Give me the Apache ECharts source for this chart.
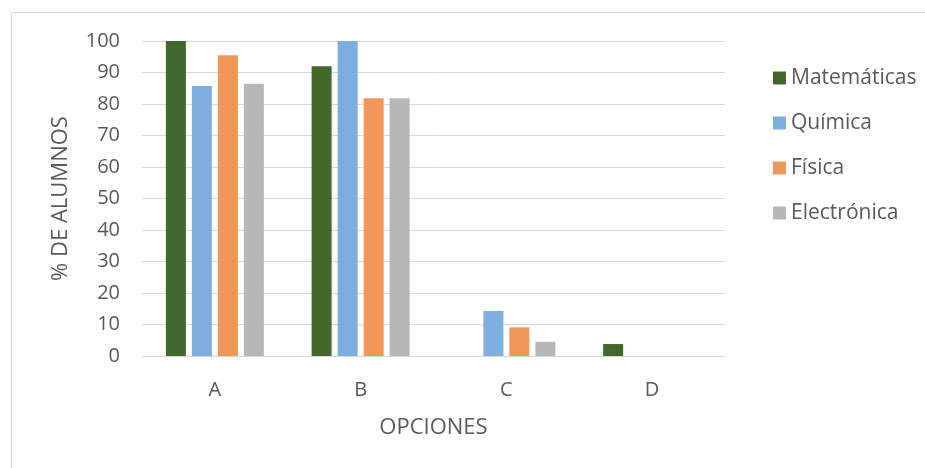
<!DOCTYPE html>
<html>
<head>
<meta charset="utf-8">
<script src="https://cdn.jsdelivr.net/npm/echarts@6/dist/echarts.min.js"></script>
<style>
  html, body { margin: 0; padding: 0; background: #fff; }
  #chart { width: 925px; height: 468px; }
</style>
</head>
<body>
<div id="chart"></div>
<script>
// Answer options and share of students choosing each, per subject
const opciones = ['A', 'B', 'C', 'D'];
const matematicas = [100, 92, 0, 3.8];
const quimica = [85.7, 100, 14.3, 0];
const fisica = [95.5, 81.8, 9.1, 0];
const electronica = [86.4, 81.8, 4.5, 0];

const seriesNames = ['Matemáticas', 'Química', 'Física', 'Electrónica'];
const seriesColors = ['#43682b', '#7cafdd', '#f1975a', '#b7b7b7'];
const seriesData = [matematicas, quimica, fisica, electronica];

const textColor = '#595959';
const gridColor = '#d9d9d9';
const font = 'Open Sans';

const chart = echarts.init(document.getElementById('chart'), null, { renderer: 'canvas' });

chart.setOption({
  animation: false,
  backgroundColor: '#fff',
  textStyle: { fontFamily: font, color: textColor },
  graphic: [{
    type: 'rect',
    left: 9, top: 10,
    shape: { x: 0.5, y: 0.5, width: 1000, height: 1000 },
    style: { fill: 'none', stroke: gridColor, lineWidth: 1 },
    z: -10
  }],
  grid: { left: 142, right: 200, top: 41, bottom: 112 },
  legend: {
    orient: 'vertical',
    left: 768,
    top: 62,
    itemWidth: 13,
    itemHeight: 13,
    itemGap: 23,
    icon: 'rect',
    textStyle: { fontFamily: font, fontSize: 21, color: textColor, lineHeight: 22, padding: [0, 0, 0, 0] },
    data: seriesNames
  },
  xAxis: {
    type: 'category',
    data: opciones,
    name: 'OPCIONES',
    nameLocation: 'middle',
    nameGap: 61,
    nameTextStyle: { fontFamily: font, fontSize: 22, color: textColor },
    axisLine: { lineStyle: { color: gridColor, width: 1 } },
    axisTick: { show: false },
    axisLabel: { margin: 24, fontSize: 20, color: textColor, fontFamily: font }
  },
  yAxis: {
    type: 'value',
    min: 0,
    max: 100,
    interval: 10,
    name: '% DE ALUMNOS',
    nameLocation: 'middle',
    nameGap: 70,
    nameTextStyle: { fontFamily: font, fontSize: 22, color: textColor },
    axisLine: { show: false },
    axisTick: { show: false },
    splitLine: { lineStyle: { color: gridColor, width: 1 } },
    axisLabel: { margin: 22, fontSize: 20, color: textColor, fontFamily: font }
  },
  series: seriesNames.map((name, i) => ({
    name: name,
    type: 'bar',
    data: seriesData[i],
    barWidth: 20,
    barGap: '30%',
    itemStyle: { color: seriesColors[i] }
  }))
});
</script>
</body>
</html>
